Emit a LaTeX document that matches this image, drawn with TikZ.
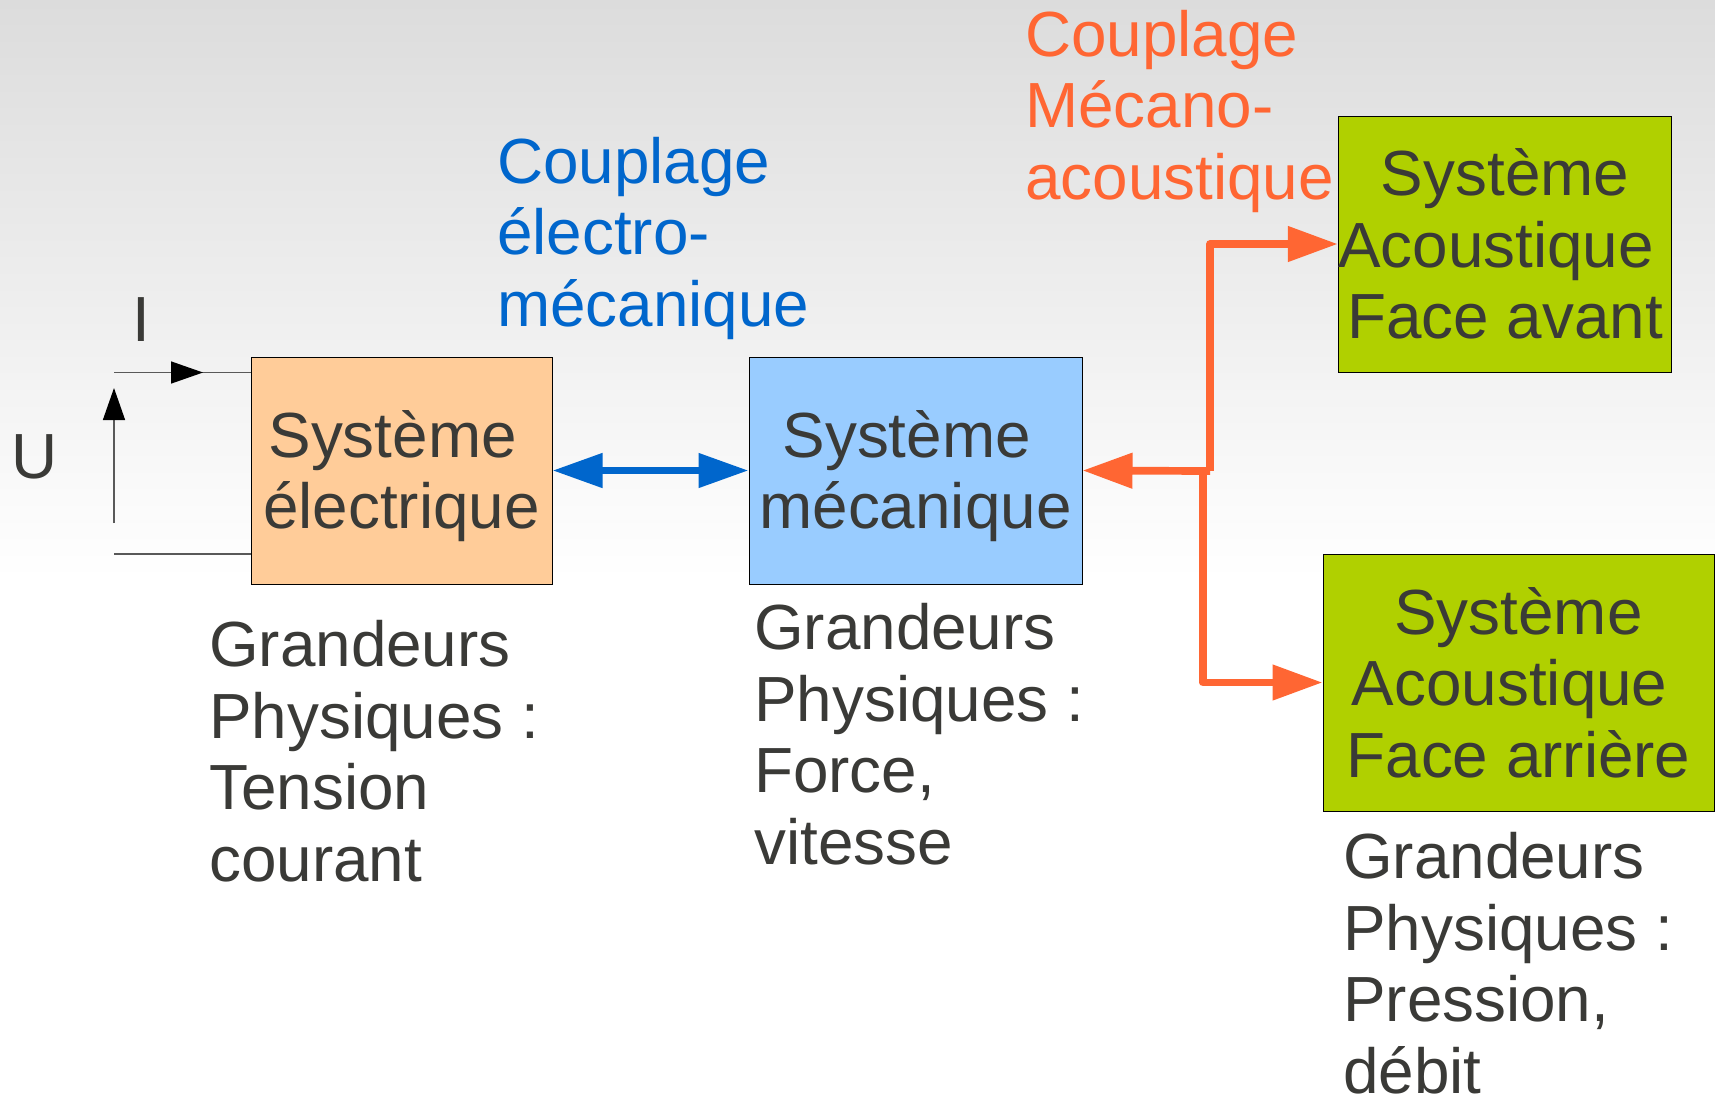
\documentclass[tikz,border=0pt]{standalone}
\usepackage{fontspec}
\setmainfont{Liberation Sans}
\usetikzlibrary{arrows.meta}
\definecolor{ink}{HTML}{3A3A37}
\definecolor{bgtop}{HTML}{DCDCDC}
\definecolor{elecfill}{HTML}{FFCC99}
\definecolor{mechfill}{HTML}{99CCFF}
\definecolor{acoufill}{HTML}{B0D000}
\definecolor{coupblue}{HTML}{0066CC}
\definecolor{couporange}{HTML}{FF6633}
\newcommand\trailsp{\kern0.278em}
\newcommand\topstrut{\rule{0pt}{58pt}}
\tikzset{
  big/.style={font=\fontsize{63.8}{71.5}\selectfont},
  sysbox/.style={draw=black, line width=1pt, inner sep=0pt, align=center, text=ink, big},
  lbl/.style={inner sep=0pt, align=left, text=ink, big},
  wire/.style={draw=black!65, line width=1.5pt},
  wirearrow/.style={wire, -{Triangle[length=32pt,width=22pt,fill=black,color=black]}},
  bluelink/.style={draw=coupblue, line width=7.7pt,
    {Triangle[length=50pt,width=33pt]}-{Triangle[length=50pt,width=33pt]}},
  orangelink/.style={draw=couporange, line width=7.7pt, line join=round,
    -{Triangle[length=50pt,width=34pt]}}
}
\begin{document}
\begin{tikzpicture}[x=1pt,y=-1pt]
\useasboundingbox (0,0) rectangle (1715,1096);
% background: light grey fading to white
\shade[top color=bgtop, bottom color=white] (0,0) rectangle (1715,580);
\fill[white] (0,580) rectangle (1715,1096);

% system blocks
\node[sysbox, fill=elecfill, minimum width=301, minimum height=227] (elec)
  at (401.5,470.5) {\topstrut Système\trailsp\\électrique};
\node[sysbox, fill=mechfill, minimum width=333, minimum height=227] (mech)
  at (915.5,470.5) {\topstrut Système\trailsp\\mécanique};
\node[sysbox, fill=acoufill, minimum width=332, minimum height=256] (front)
  at (1505,244) {Système\\Acoustique\trailsp\\Face avant};
\node[sysbox, fill=acoufill, minimum width=391, minimum height=257] (rear)
  at (1518.5,682.5) {Système\\Acoustique\trailsp\\Face arrière};

% electrical port: wires, current and voltage arrows
\coordinate (wtop) at (114,372.5);
\coordinate (wbot) at (114,554);
\coordinate (ifrom) at (144,372.5);
\coordinate (ito) at (203,372.5);
\coordinate (ufrom) at (114,523);
\coordinate (uto) at (114,388);
\draw[wire] (wtop) -- (wtop -| elec.west);
\draw[wire] (wbot) -- (wbot -| elec.west);
\draw[wirearrow] (ifrom) -- (ito);
\draw[wirearrow] (ufrom) -- (uto);
\node[lbl, anchor=base] (ilbl) at (141,341) {I};
\node[lbl, anchor=base] (ulbl) at (35,478) {U};

% electro-mechanical coupling (anchored on the baseline of the last line)
\draw[bluelink] (elec.east) -- (mech.west);
\node[lbl, text=coupblue, anchor=base west] (cem) at (497,326)
  {Couplage\\électro-\\mécanique};

% mechano-acoustic coupling
\coordinate (hubup) at (1210,471);
\coordinate (hubdown) at (1203,471);
\draw[orangelink] (hubup) -- (mech.east);
\draw[orangelink] (hubup) |- (front.west);
\draw[orangelink] (hubdown) |- (rear.west);
\node[lbl, text=couporange, anchor=base west] (cma) at (1025,199)
  {Couplage\\Mécano-\\acoustique};

% physical quantities
\node[lbl, anchor=base west] (qelec) at (209,881)
  {Grandeurs\\Physiques :\\Tension\\courant};
\node[lbl, anchor=base west] (qmech) at (754,864)
  {Grandeurs\\Physiques :\\Force,\\vitesse};
\node[lbl, anchor=base west] (qacou) at (1343,1093)
  {Grandeurs\\Physiques :\\Pression,\\débit};
\end{tikzpicture}
\end{document}
